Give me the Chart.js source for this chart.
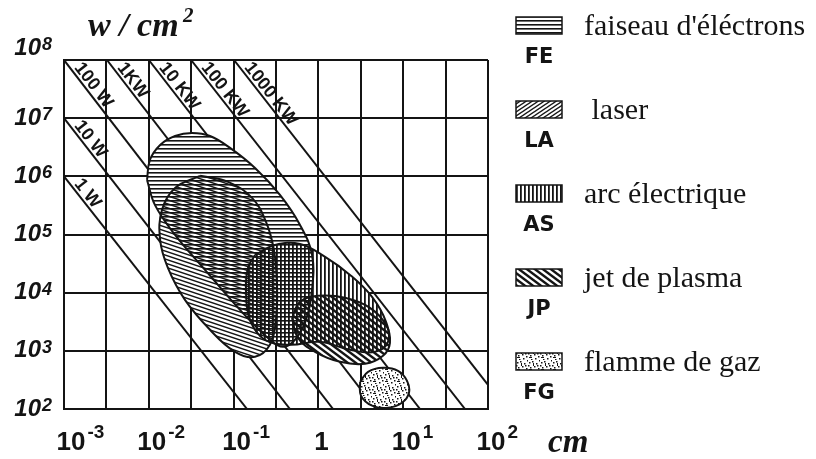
<!DOCTYPE html>
<html>
<head>
<meta charset="utf-8">
<script src="https://cdn.jsdelivr.net/npm/chart.js@4.4.0/dist/chart.umd.min.js"></script>
<style>
  html, body { margin: 0; padding: 0; background: #fff; }
  #wrap { width: 816px; height: 459px; }
</style>
</head>
<body>
<div id="wrap"><canvas id="chart" width="816" height="459"></canvas></div>
<script>
// ---- axes ----
const xTicks = [0.001, 0.01, 0.1, 1, 10, 100];
const xTickBase = ['10', '10', '10', '1', '10', '10'];
const xTickExp = ['-3', '-2', '-1', '', '1', '2'];
const xGrid = [0.001, 0.00316, 0.01, 0.0316, 0.1, 0.316, 1, 3.16, 10, 31.6, 100];
const yTicks = [1e2, 1e3, 1e4, 1e5, 1e6, 1e7, 1e8];
const yTickExp = ['2', '3', '4', '5', '6', '7', '8'];

// ---- lignes de puissance (cm, W/cm2) ----
const powerLabels = ['1 W', '10 W', '100 W', '1KW', '10 KW', '100 KW', '1000 KW'];
const powerStart = [[0.001, 1e6], [0.001, 1e7], [0.001, 1e8], [0.00321, 1e8], [0.01, 1e8], [0.0315, 1e8], [0.101, 1e8]];
const powerEnd = [[0.144, 100], [0.462, 100], [1.49, 100], [4.77, 100], [15.8, 100], [53.6, 100], [100, 261]];

// ---- domaines des sources (contours) ----
const regionCodes = ['FE', 'LA', 'AS', 'JP', 'FG'];
const regionNames = ["faiseau d'éléctrons", ' laser', 'arc électrique', 'jet de plasma', 'flamme de gaz'];

const feOutline = [
  [0.00953, 8.67e5], [0.0103, 1.91e6], [0.0136, 3.47e6], [0.0204, 4.94e6], [0.0323, 5.57e6],
  [0.0527, 4.94e6], [0.0908, 3.08e6], [0.179, 1.39e6], [0.352, 4.79e5], [0.607, 1.46e5],
  [0.841, 4.46e4], [0.841, 1.12e4], [0.715, 3.41e3], [0.530, 1.55e3], [0.383, 1.17e3],
  [0.268, 1.55e3], [0.119, 5.06e3], [0.046, 2.47e4], [0.0204, 9.84e4], [0.0118, 3.23e5],
  [0.00953, 8.67e5]
];
const laOutline = [
  [0.0402, 1.02e6], [0.0859, 8.01e5], [0.165, 4.26e5], [0.241, 1.65e5], [0.299, 5.43e4],
  [0.325, 1.36e4], [0.316, 3.41e3], [0.268, 1.27e3], [0.179, 789], [0.104, 962],
  [0.0527, 2.30e3], [0.0267, 7.52e3], [0.0168, 2.67e4], [0.0136, 8.07e4], [0.0143, 2.65e5],
  [0.0204, 6.32e5], [0.0402, 1.02e6]
];
const asOutline = [
  [0.179, 4.46e4], [0.308, 6.62e4], [0.607, 6.89e4], [1.20, 4.12e4], [2.36, 2.02e4],
  [4.29, 8.47e3], [6.27, 3.15e3], [6.62, 1.43e3], [4.65, 962], [2.36, 1.04e3],
  [1.04, 1.43e3], [0.462, 1.27e3], [0.234, 1.55e3], [0.156, 3.41e3], [0.140, 1.12e4],
  [0.148, 2.67e4], [0.179, 4.46e4]
];
const jpOutline = [
  [0.489, 3.69e3], [0.607, 6.95e3], [0.989, 8.81e3], [2.06, 8.15e3], [4.06, 5.48e3],
  [6.27, 2.80e3], [6.98, 1.37e3], [5.78, 820], [3.55, 598], [1.80, 647],
  [0.912, 962], [0.574, 1.67e3], [0.489, 3.69e3]
];
const fgOutline = [
  [3.10, 293], [3.85, 436], [5.78, 511], [8.69, 453], [11.1, 305],
  [11.7, 190], [9.68, 128], [6.62, 105], [4.29, 114], [3.18, 169], [3.10, 293]
];
const outlines = [feOutline, laOutline, asOutline, jpOutline, fgOutline];

// ---- motifs de hachures ----
const INK = '#141414';

function makePattern(w, h, draw) {
  const c = document.createElement('canvas');
  c.width = w; c.height = h;
  const g = c.getContext('2d');
  g.fillStyle = INK; g.strokeStyle = INK;
  draw(g, w, h);
  return g.createPattern(c, 'repeat');
}

function diagonal(g, w, h, lw, up) {
  g.lineWidth = lw;
  for (let k = -1; k <= 1; k++) {
    g.beginPath();
    if (up) { g.moveTo(-w, 2 * h + k * h); g.lineTo(2 * w, -h + k * h); }
    else { g.moveTo(-w, -h + k * h); g.lineTo(2 * w, 2 * h + k * h); }
    g.stroke();
  }
}

const patHoriz = makePattern(4, 4, (g, w) => g.fillRect(0, 0, w, 1.6));
const patVert = makePattern(4, 4, (g, w, h) => g.fillRect(0, 0, 1.8, h));
const patLaser = makePattern(12, 4, (g, w, h) => diagonal(g, w, h, 1.4, false));
const patLaserKey = makePattern(6, 4, (g, w, h) => diagonal(g, w, h, 1.4, true));
const patPlasma = makePattern(8, 6, (g, w, h) => diagonal(g, w, h, 2.4, false));
const patFlame = makePattern(12, 12, (g) => {
  const dots = [[1, 2], [4, 1], [8, 3], [2, 7], [6, 6], [10, 8], [3, 11], [7, 10], [0, 5], [11, 0], [9, 5]];
  dots.forEach(d => g.fillRect(d[0], d[1], 1.5, 1.5));
  g.fillRect(1, 9, 3, 1);
  g.fillRect(5, 3, 1, 3);
});
const chartPatterns = [patHoriz, patLaser, patVert, patPlasma, patFlame];
const keyPatterns = [patHoriz, patLaserKey, patVert, patPlasma, patFlame];

// ---- jeux de données ----
const toPts = arr => arr.map(p => ({ x: p[0], y: p[1] }));
const datasets = [];

outlines.forEach((o, i) => {
  datasets.push({
    label: regionCodes[i],
    data: toPts(o),
    showLine: true,
    tension: 0.4,
    fill: 'shape',
    backgroundColor: chartPatterns[i],
    borderColor: INK,
    borderWidth: 2,
    pointRadius: 0,
    order: 1
  });
});
outlines.forEach((o, i) => {
  datasets.push({
    label: regionCodes[i] + ' fond',
    data: toPts(o),
    showLine: true,
    tension: 0.4,
    fill: 'shape',
    backgroundColor: '#fff',
    borderWidth: 0,
    pointRadius: 0,
    order: 5
  });
});
powerLabels.forEach((lab, i) => {
  datasets.push({
    label: lab,
    data: toPts([powerStart[i], powerEnd[i]]),
    showLine: true,
    fill: false,
    borderColor: INK,
    borderWidth: 2,
    pointRadius: 0,
    order: 10
  });
});

// ---- textes : graduations, titres, étiquettes, légende ----
const textPlugin = {
  id: 'textes',
  afterDatasetsDraw(chart) {
    const { ctx, scales: { x, y } } = chart;
    ctx.save();
    ctx.fillStyle = INK;

    // graduations Y
    yTicks.forEach((v, i) => {
      let py = y.getPixelForValue(v);
      if (i === yTicks.length - 1) py -= 12;
      ctx.font = 'bold italic 24px "Liberation Sans"';
      ctx.textAlign = 'right';
      ctx.textBaseline = 'middle';
      ctx.fillText('10', 41, py);
      ctx.font = 'bold italic 18px "Liberation Sans"';
      ctx.textAlign = 'left';
      ctx.textBaseline = 'alphabetic';
      ctx.fillText(yTickExp[i], 42, py + 2);
    });

    // graduations X
    xTicks.forEach((v, i) => {
      const px = x.getPixelForValue(v) + (i === 0 ? 7 : 3);
      ctx.font = 'bold 26px "Liberation Sans"';
      ctx.textAlign = 'center';
      ctx.textBaseline = 'middle';
      ctx.fillText(xTickBase[i], px, 443);
      if (xTickExp[i]) {
        const w = ctx.measureText(xTickBase[i]).width;
        ctx.font = 'bold 19px "Liberation Sans"';
        ctx.textAlign = 'left';
        ctx.textBaseline = 'alphabetic';
        ctx.fillText(xTickExp[i], px + w / 2 + 2, 438);
      }
    });

    // unités
    ctx.textAlign = 'left';
    ctx.textBaseline = 'alphabetic';
    ctx.font = 'bold italic 34px "Liberation Serif"';
    ctx.fillText('w / cm', 88, 36);
    ctx.font = 'bold italic 21px "Liberation Serif"';
    ctx.fillText('2', 183, 22);
    ctx.font = 'bold italic 33px "Liberation Serif"';
    ctx.fillText('cm', 548, 452);

    // étiquettes des lignes de puissance
    ctx.font = 'bold 18px "Liberation Sans"';
    powerLabels.forEach((lab, i) => {
      const x0 = x.getPixelForValue(powerStart[i][0]);
      const y0 = y.getPixelForValue(powerStart[i][1]);
      const x1 = x.getPixelForValue(powerEnd[i][0]);
      const y1 = y.getPixelForValue(powerEnd[i][1]);
      ctx.save();
      ctx.translate(x0, y0);
      ctx.rotate(Math.atan2(y1 - y0, x1 - x0));
      ctx.textAlign = 'left';
      ctx.textBaseline = 'alphabetic';
      ctx.fillText(lab, 12, -3);
      ctx.restore();
    });

    // légende
    regionNames.forEach((name, i) => {
      const base = 35 + i * 84;
      ctx.fillStyle = '#fff';
      ctx.fillRect(516, base - 18, 46, 17);
      ctx.fillStyle = keyPatterns[i];
      ctx.fillRect(516, base - 18, 46, 17);
      ctx.fillStyle = INK;
      ctx.strokeStyle = INK;
      ctx.lineWidth = 1.5;
      ctx.strokeRect(516, base - 18, 46, 17);
      ctx.font = '30px "Liberation Serif"';
      ctx.textAlign = 'left';
      ctx.textBaseline = 'alphabetic';
      ctx.fillText(name, 584, base);
      ctx.font = 'bold 21px "DejaVu Sans"';
      ctx.textAlign = 'center';
      ctx.textBaseline = 'middle';
      ctx.fillText(regionCodes[i], 539, base + 23);
    });
    ctx.restore();
  }
};

new Chart(document.getElementById('chart'), {
  type: 'scatter',
  data: { datasets },
  options: {
    responsive: false,
    animation: false,
    events: [],
    layout: { padding: { left: 64, top: 60, right: 328, bottom: 50 } },
    plugins: { legend: { display: false }, tooltip: { enabled: false } },
    scales: {
      x: {
        type: 'logarithmic',
        min: 0.001,
        max: 100,
        afterBuildTicks: s => { s.ticks = xGrid.map(v => ({ value: v })); },
        ticks: { display: false },
        grid: { color: INK, lineWidth: 2, drawTicks: false },
        border: { display: true, color: INK, width: 2 }
      },
      y: {
        type: 'logarithmic',
        min: 100,
        max: 1e8,
        afterBuildTicks: s => { s.ticks = yTicks.map(v => ({ value: v })); },
        ticks: { display: false },
        grid: { color: INK, lineWidth: 2, drawTicks: false },
        border: { display: true, color: INK, width: 2 }
      }
    }
  },
  plugins: [textPlugin]
});
</script>
</body>
</html>
